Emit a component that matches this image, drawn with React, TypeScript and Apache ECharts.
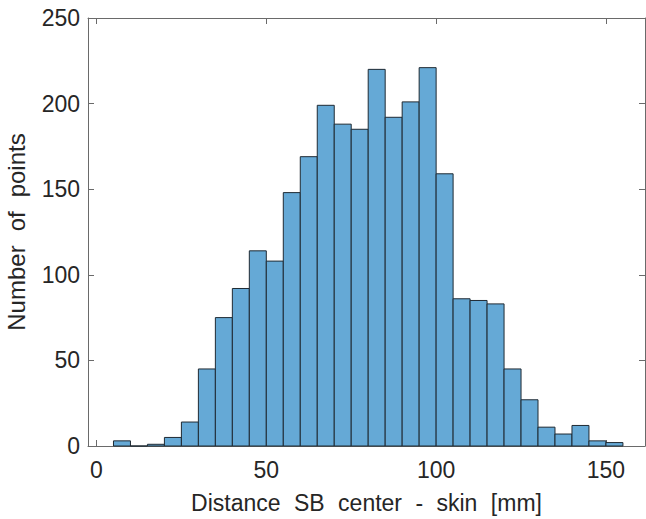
import React, { useEffect, useRef } from "react";
import * as echarts from "echarts";

const binStarts = [5, 10, 15, 20, 25, 30, 35, 40, 45, 50, 55, 60, 65, 70, 75, 80, 85, 90, 95, 100, 105, 110, 115, 120, 125, 130, 135, 140, 145, 150];
const binEnds = [10, 15, 20, 25, 30, 35, 40, 45, 50, 55, 60, 65, 70, 75, 80, 85, 90, 95, 100, 105, 110, 115, 120, 125, 130, 135, 140, 145, 150, 155];
const counts = [3, 0, 1, 5, 14, 45, 75, 92, 114, 108, 148, 169, 199, 188, 185, 220, 192, 201, 221, 159, 86, 85, 83, 45, 27, 11, 7, 12, 3, 2];
const xTicks = [0, 50, 100, 150];
const xTitleWords = ["Distance", "SB", "center", "-", "skin", "[mm]"];
const yTitleWords = ["Number", "of", "points"];

const FONT = "'Liberation Sans', Arial, Helvetica, sans-serif";
const AXIS_COLOR = "#6a6a6a";
const TEXT_COLOR = "#262626";
const WIDE_SPACE = "\u2002\u200A";

export default function App() {
  const ref = useRef<HTMLDivElement>(null);
  useEffect(() => {
    if (!ref.current) return;
    const chart = echarts.init(ref.current, undefined, { renderer: "svg" });
    const xCommon = {
      type: "value" as const,
      min: -2.5,
      max: 161.5,
      splitLine: { show: false },
      axisLine: { show: true, onZero: false, lineStyle: { color: AXIS_COLOR, width: 1 } },
    };
    const yCommon = {
      type: "value" as const,
      min: 0,
      max: 250,
      interval: 50,
      splitLine: { show: false },
      axisLine: { show: true, onZero: false, lineStyle: { color: AXIS_COLOR, width: 1 } },
    };
    chart.setOption({
      animation: false,
      backgroundColor: "#ffffff",
      grid: { left: 88, top: 18, right: 1, bottom: 73, containLabel: false, outerBoundsMode: "none" },
      xAxis: [
        {
          ...xCommon,
          position: "bottom",
          name: xTitleWords.join(WIDE_SPACE),
          nameLocation: "middle",
          nameGap: 45,
          nameTextStyle: { fontFamily: FONT, fontSize: 23, color: TEXT_COLOR },
          axisTick: { show: true, inside: true, length: 6, customValues: xTicks, lineStyle: { color: AXIS_COLOR } },
          axisLabel: { show: true, customValues: xTicks, margin: 12, fontFamily: FONT, fontSize: 23, color: TEXT_COLOR },
        },
        {
          ...xCommon,
          position: "top",
          axisTick: { show: true, inside: true, length: 6, customValues: xTicks, lineStyle: { color: AXIS_COLOR } },
          axisLabel: { show: false },
        },
      ],
      yAxis: [
        {
          ...yCommon,
          position: "left",
          name: yTitleWords.join(WIDE_SPACE),
          nameLocation: "middle",
          nameGap: 60,
          nameTextStyle: { fontFamily: FONT, fontSize: 24, color: TEXT_COLOR },
          axisTick: { show: true, inside: true, length: 6, lineStyle: { color: AXIS_COLOR } },
          axisLabel: { show: true, margin: 8, fontFamily: FONT, fontSize: 23, color: TEXT_COLOR },
        },
        {
          ...yCommon,
          position: "right",
          axisTick: { show: true, inside: true, length: 6, lineStyle: { color: AXIS_COLOR } },
          axisLabel: { show: false },
        },
      ],
      series: [
        {
          type: "custom",
          xAxisIndex: 0,
          yAxisIndex: 0,
          data: binStarts.map((s, i) => [s, binEnds[i], counts[i]]),
          encode: { x: [0, 1], y: 2 },
          renderItem: (params: any, api: any) => {
            const p0 = api.coord([api.value(0), api.value(2)]);
            const p1 = api.coord([api.value(1), 0]);
            return {
              type: "rect",
              shape: { x: p0[0], y: p0[1], width: p1[0] - p0[0], height: p1[1] - p0[1] },
              style: { fill: "rgb(101,169,214)", stroke: "#1f2a33", lineWidth: 1 },
            };
          },
        },
      ],
    });
    return () => chart.dispose();
  }, []);
  return (
    <div
      ref={ref}
      style={{ position: "fixed", left: 0, top: 0, width: 646, height: 519 }}
    />
  );
}
